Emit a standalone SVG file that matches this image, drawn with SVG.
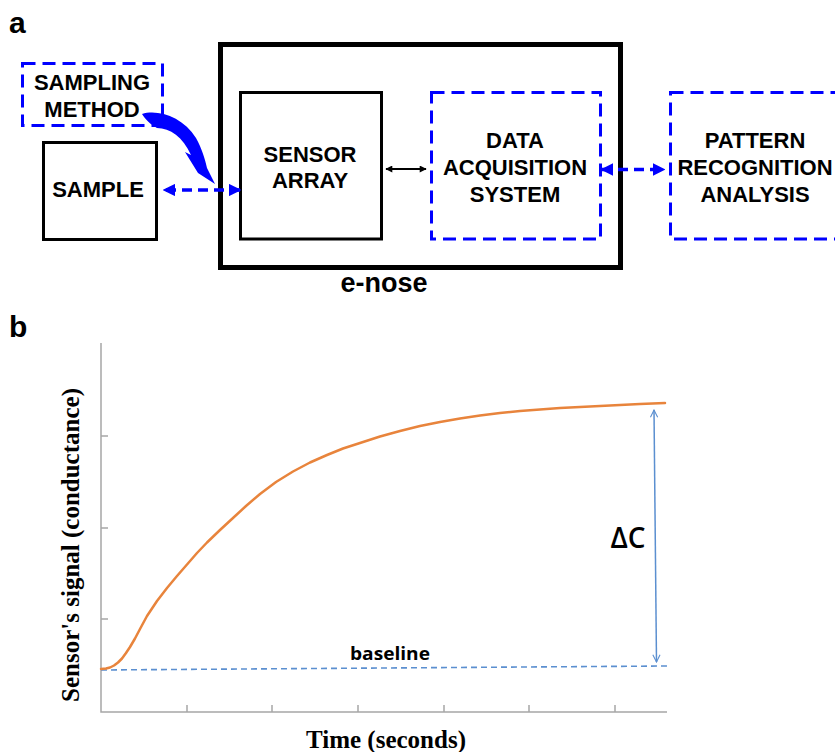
<svg xmlns="http://www.w3.org/2000/svg" width="835" height="752" viewBox="0 0 835 752">
<defs>
<style>
.lbl{font-family:"Liberation Sans",Arial,sans-serif;font-weight:bold;fill:#000}
.box{font-family:"Liberation Sans",Arial,sans-serif;font-weight:bold;font-size:22px;fill:#000;text-anchor:middle}
.solid{fill:none;stroke:#000;stroke-width:3}
.thick{fill:none;stroke:#000;stroke-width:5}
.dash{fill:none;stroke:#0000ff;stroke-width:3;stroke-dasharray:13 7}
.bdash{fill:none;stroke:#0000ff;stroke-width:3.5;stroke-dasharray:10 6}
.axis{fill:none;stroke:#a6a6a6;stroke-width:1.5}
.times{font-family:"Liberation Serif","Times New Roman",serif;font-weight:bold;font-size:25px;fill:#000;text-anchor:middle}
</style>
<marker id="bh" viewBox="0 0 10 10" refX="9" refY="5" markerWidth="3.6" markerHeight="3.6" orient="auto-start-reverse" markerUnits="strokeWidth">
<path d="M0,0 L10,5 L0,10 Z" fill="#0000ff"/>
</marker>
<marker id="kh" viewBox="0 0 10 10" refX="9" refY="5" markerWidth="4" markerHeight="3.5" orient="auto-start-reverse" markerUnits="strokeWidth">
<path d="M0,0 L10,5 L0,10 Z" fill="#000"/>
</marker>
<marker id="lh" viewBox="0 0 10 10" refX="9" refY="5" markerWidth="6" markerHeight="6" orient="auto-start-reverse" markerUnits="strokeWidth">
<path d="M1,1 L9,5 L1,9" fill="none" stroke="#5b8fd0" stroke-width="1.2"/>
</marker>
</defs>
<rect width="835" height="752" fill="#fff"/>

<text class="lbl" x="9" y="33" font-size="30">a</text>
<text class="lbl" x="9" y="337" font-size="30">b</text>

<g id="enose">
<rect class="thick" x="220.5" y="44.5" width="400" height="223"/>
<text class="lbl" x="384" y="292" font-size="27" text-anchor="middle">e-nose</text>
</g>
<g id="sampling">
<rect class="dash" x="22.5" y="63.5" width="140" height="62"/>
<text class="box" x="92" y="90">SAMPLING</text>
<text class="box" x="92" y="117">METHOD</text>
</g>
<g id="sample">
<rect class="solid" x="43.5" y="142.5" width="113" height="97"/>
<text class="box" x="98" y="197">SAMPLE</text>
</g>
<g id="sensor">
<rect class="solid" x="240.5" y="92.5" width="141" height="146.5"/>
<text class="box" x="310" y="162">SENSOR</text>
<text class="box" x="310" y="188">ARRAY</text>
</g>
<g id="daq">
<rect class="dash" x="431.5" y="92.5" width="169" height="146.5"/>
<text class="box" x="515" y="148">DATA</text>
<text class="box" x="515" y="175">ACQUISITION</text>
<text class="box" x="515" y="202">SYSTEM</text>
</g>
<g id="pattern">
<rect class="dash" x="670.5" y="92.5" width="175" height="146.5"/>
<text class="box" x="755" y="148">PATTERN</text>
<text class="box" x="755" y="175">RECOGNITION</text>
<text class="box" x="755" y="202">ANALYSIS</text>
</g>

<g id="connectors">
<line class="bdash" x1="164" y1="190" x2="240" y2="190" marker-start="url(#bh)" marker-end="url(#bh)" stroke-dashoffset="-2"/>
<line class="bdash" x1="602" y1="169.5" x2="664" y2="169.5" marker-start="url(#bh)" marker-end="url(#bh)"/>
<line x1="386" y1="169" x2="426" y2="169" stroke="#000" stroke-width="2" marker-start="url(#kh)" marker-end="url(#kh)"/>
<path d="M142,114 C158,109 183,117 196,138 C202,149 205,159 207,168 L215,184 L198,173 L185,152 L191,155 C183,137 170,128 157,128 C150,124 146,120 142,114 Z" fill="#0000ff"/>
</g>

<g id="chart">
<path class="axis" d="M101,343 V712 H667"/>
<path class="axis" d="M101,436 H108 M101,528 H108 M101,619 H108 M187,712 V705 M272,712 V705 M358,712 V705 M444,712 V705 M529,712 V705 M615,712 V705"/>
<line x1="101" y1="670" x2="667" y2="666" stroke="#5b8fd0" stroke-width="1.6" stroke-dasharray="6 4"/>
<text x="390" y="660" font-family="'Open Sans',sans-serif" font-weight="700" font-size="17" text-anchor="middle" textLength="80" lengthAdjust="spacingAndGlyphs">baseline</text>
<polyline fill="none" stroke="#e8843c" stroke-width="2.5" stroke-linejoin="round" stroke-linecap="round" points="101,669 106,668.5 110,667.5 114,665.5 118,662.5 122,658.5 126,653 130,647 135,638.5 140,629 147,616 157,601 167,588 177,576 187,564.5 197,553 207,542.5 220,530 233,518 246,506 260,494 276,482 293,471.5 310,462.5 327,455 343,448.5 360,443 380,436.5 400,431 420,426 440,422 460,418.5 480,415.5 500,413 520,411 540,409.5 560,408 580,407 600,406 620,405 640,404 665,403"/>
<line x1="654" y1="410" x2="656.5" y2="662" stroke="#5b8fd0" stroke-width="1.5" marker-start="url(#lh)" marker-end="url(#lh)"/>
<text x="628" y="548" font-family="'Open Sans',sans-serif" font-weight="600" font-size="28" text-anchor="middle">ΔC</text>
<text class="times" x="386" y="748">Time (seconds)</text>
<text class="times" transform="translate(79,545) rotate(-90)" font-size="26">Sensor's signal (conductance)</text>
</g>
</svg>
